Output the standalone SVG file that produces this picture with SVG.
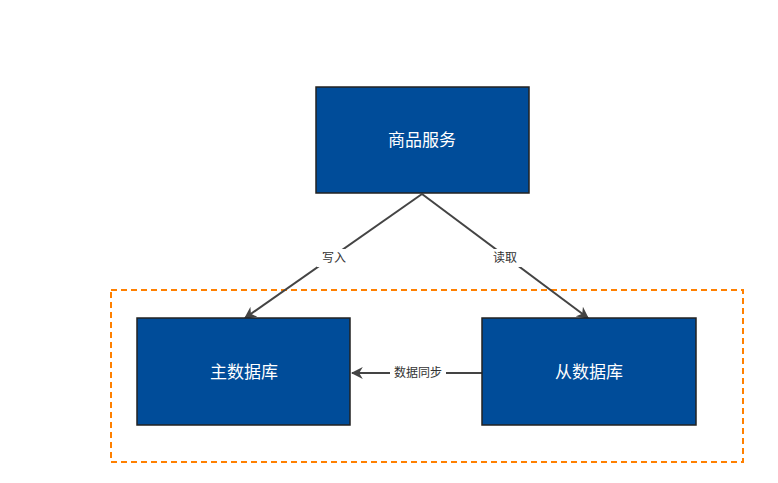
<svg xmlns="http://www.w3.org/2000/svg" width="778" height="483" viewBox="0 0 778 483">
<style>
.box{fill:#004c99;stroke:#222;stroke-width:1.5}
.t{fill:#fff;font-family:"Liberation Sans","Noto Sans CJK SC",sans-serif;font-size:17px;text-anchor:middle;dominant-baseline:central}
.lbl{fill:#333;font-family:"Liberation Sans","Noto Sans CJK SC",sans-serif;font-size:12px;text-anchor:middle;dominant-baseline:central}
.c{stroke:#444;stroke-width:2;fill:none;marker-end:url(#a)}
</style>
<defs><marker id="a" viewBox="0 0 10 10" refX="9" refY="5" markerWidth="6" markerHeight="6" orient="auto" markerUnits="strokeWidth"><path d="M0,0 L10,5 L0,10 L3,5 z" fill="#444"/></marker></defs>
<rect width="778" height="483" fill="#fff"/>
<rect x="111" y="290" width="632" height="172" fill="none" stroke="#ff8000" stroke-width="2" stroke-dasharray="6,4"/>
<g id="connectors">
<path class="c" d="M422,194 L245,318"/>
<path class="c" d="M422,194 L588,318"/>
<path class="c" d="M482,373 L352,373"/>
<rect x="317" y="249" width="34" height="18" fill="#fff"/><text class="lbl" x="334" y="258">写入</text>
<rect x="488" y="249" width="34" height="18" fill="#fff"/><text class="lbl" x="505" y="258">读取</text>
<rect x="390" y="364" width="56" height="18" fill="#fff"/><text class="lbl" x="418" y="373">数据同步</text>
</g>
<g id="goods"><rect class="box" x="316" y="87" width="213" height="106"/><text class="t" x="422" y="140">商品服务</text></g>
<g id="master"><rect class="box" x="137" y="318" width="213" height="107"/><text class="t" x="244" y="372">主数据库</text></g>
<g id="slave"><rect class="box" x="482" y="318" width="214" height="107"/><text class="t" x="589" y="372">从数据库</text></g>
</svg>
